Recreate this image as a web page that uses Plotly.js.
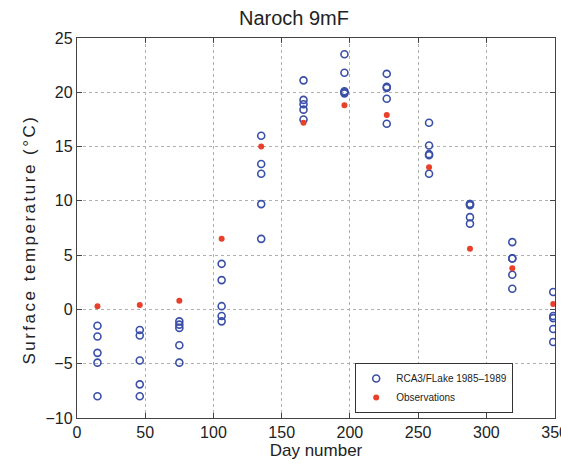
<!DOCTYPE html>
<html><head><meta charset="utf-8">
<script src="https://cdn.plot.ly/plotly-3.0.1.min.js"></script>
<style>html,body{margin:0;padding:0;background:#fff;overflow:hidden;}#chart{width:561px;height:465px;overflow:hidden;}</style>
</head><body><div id="chart"></div>
<script>
const days = [15, 46, 75, 106, 135, 166, 196, 227, 258, 288, 319, 349];
const modelValues = [
  [-1.5, -2.5, -4.0, -4.9, -8.0],
  [-1.9, -2.4, -4.7, -6.9, -8.0],
  [-1.1, -1.4, -1.7, -3.3, -4.9],
  [4.2, 2.7, 0.3, -0.6, -1.1],
  [16.0, 13.4, 12.5, 9.7, 6.5],
  [21.1, 19.3, 18.9, 18.4, 17.5],
  [23.5, 21.8, 20.1, 19.9, 20.0],
  [21.7, 20.5, 20.4, 19.4, 17.1],
  [17.2, 15.1, 14.3, 14.2, 12.5],
  [9.7, 9.6, 8.5, 7.9, 9.7],
  [6.2, 4.7, 3.2, 1.9, 4.7],
  [1.6, -0.6, -0.8, -1.8, -3.0]
];
const obsValues = [0.3, 0.4, 0.8, 6.5, 15.0, 17.2, 18.8, 17.9, 13.1, 5.6, 3.8, 0.5];
const xTicks = [0, 50, 100, 150, 200, 250, 300, 350];
const xTickLabels = ['0', '50', '100', '150', '200', '250', '300', '350'];
const yTicks = [-10, -5, 0, 5, 10, 15, 20, 25];

const mx = [], my = [];
days.forEach((d, i) => modelValues[i].forEach(v => { mx.push(d); my.push(v); }));

const fam = 'Liberation Sans, Arial, sans-serif';
const axisCommon = {
  showline: true, mirror: 'ticks', linecolor: '#444', linewidth: 1.2,
  ticks: 'inside', ticklen: 5, tickcolor: '#444',
  showgrid: true, gridcolor: '#b0b0b0', griddash: 'dot', gridwidth: 1,
  zeroline: false, tickfont: {family: fam, size: 16, color: '#222'},
  ticklabeloverflow: 'allow'
};
const traces = [
  {x: mx, y: my, type: 'scatter', mode: 'markers', name: 'RCA3/FLake 1985\u20131989',
   marker: {symbol: 'circle-open', size: 7, color: '#3a4fa8', line: {width: 1.6, color: '#3a4fa8'}}},
  {x: days, y: obsValues, type: 'scatter', mode: 'markers', name: 'Observations',
   marker: {symbol: 'circle', size: 6, color: '#e8402a'}}
];
const layout = {
  width: 561, height: 465,
  margin: {l: 77, r: 6, t: 38, b: 47},
  paper_bgcolor: '#fff', plot_bgcolor: '#fff',
  showlegend: true,
  title: {text: 'Naroch 9mF', x: 0.524, xanchor: 'center', y: 0.962, yanchor: 'middle',
          font: {family: fam, size: 20, color: '#222'}},
  xaxis: Object.assign({}, axisCommon, {
    range: [0, 350.3], tickvals: xTicks, ticktext: xTickLabels,
    title: {text: 'Day number', standoff: 0, font: {family: fam, size: 17, color: '#222'}}
  }),
  yaxis: Object.assign({}, axisCommon, {
    range: [-10, 25], tickvals: yTicks
  }),
  annotations: [{
    text: 'Surface temperature (\u00b0C)', textangle: -90, showarrow: false,
    xref: 'paper', yref: 'paper', x: -0.1, xanchor: 'center', y: 0.47, yanchor: 'middle',
    font: {family: fam, size: 17, color: '#222'}
  }],
  legend: {
    x: 0.582, xanchor: 'left', y: 0.013, yanchor: 'bottom',
    bgcolor: '#fff', bordercolor: '#333', borderwidth: 1,
    font: {family: fam, size: 10, color: '#222'},
    tracegroupgap: 0, itemsizing: 'trace'
  }
};
Plotly.newPlot('chart', traces, layout, {staticPlot: true}).then(() => {
  document.querySelectorAll('.annotation-text').forEach(t => t.style.letterSpacing = '2.5px');
});
</script>
</body></html>
